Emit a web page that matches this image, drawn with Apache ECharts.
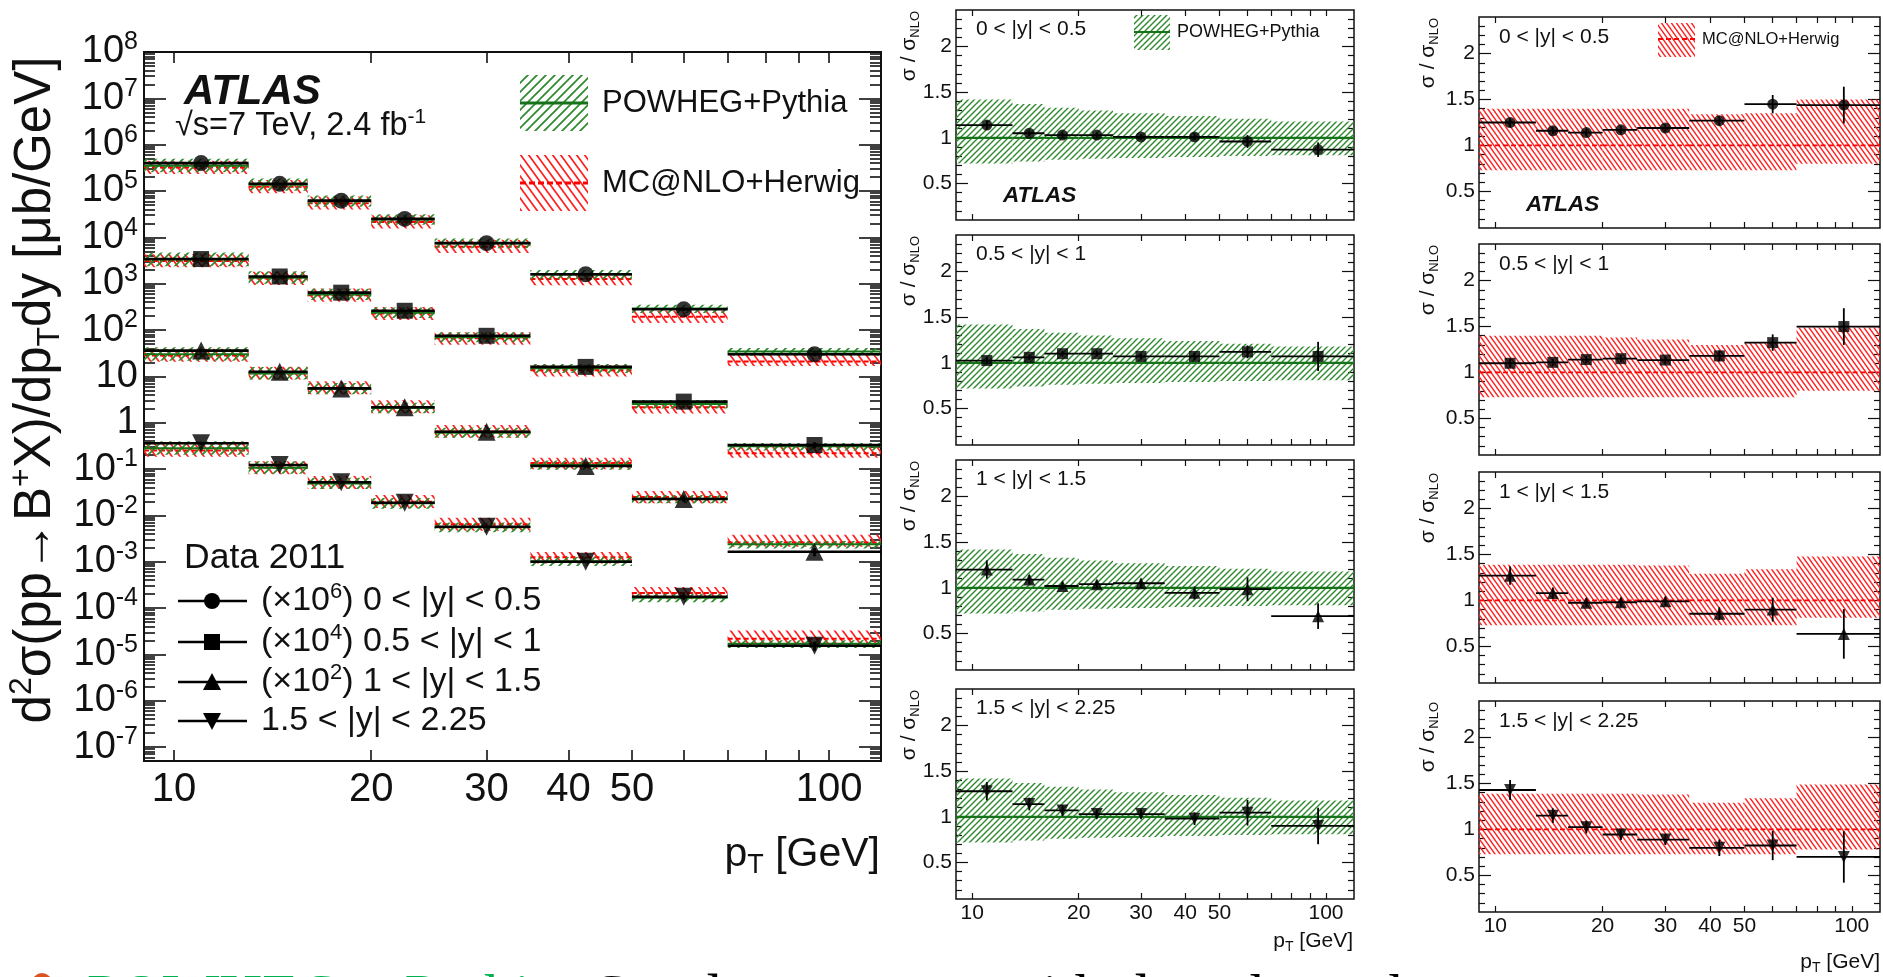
<!DOCTYPE html>
<html><head><meta charset="utf-8">
<script src="https://cdn.jsdelivr.net/npm/echarts@6/dist/echarts.min.js"></script>
<style>html,body{margin:0;padding:0;background:#fff;overflow:hidden}#c{width:1883px;height:977px}</style>
</head><body><div id="c"></div>
<script>
// ---------------- DATA ----------------
const ptEdges   = [9, 13, 16, 20, 25, 35, 50, 70, 120];
const ptCenters = [11, 14.5, 18, 22.5, 30, 42.5, 60, 95];
const xTickValues = [10, 20, 30, 40, 50, 60, 70, 80, 90, 100];
const xTickLabels = [10, 20, 30, 40, 50, 100];
const yDecades = [-7, -6, -5, -4, -3, -2, -1, 0, 1, 2, 3, 4, 5, 6, 7, 8];
const ratioTicks = [0.5, 1, 1.5, 2];
const ratioMinor = [0.2, 0.3, 0.4, 0.6, 0.7, 0.8, 0.9, 1.1, 1.2, 1.3, 1.4, 1.6, 1.7, 1.8, 1.9, 2.1, 2.2, 2.3];
const rapLabels = ['0 < |y| < 0.5', '0.5 < |y| < 1', '1 < |y| < 1.5', '1.5 < |y| < 2.25'];
const scaleExp = ['6', '4', '2', ''];

// main panel: d2sigma/dpTdy as plotted (already multiplied by the legend factors)
const xsecY0 = [4.0e5, 1.43e5, 6.2e4, 2.5e4, 7.5e3, 1.6e3, 280, 30];
const xsecY1 = [3.4e3, 1.43e3, 640, 260, 75, 16, 2.85, 0.33];
const xsecY2 = [36, 12.6, 5.5, 2.15, 0.64, 0.116, 0.0225, 1.64e-3];
const xsecY3 = [0.36, 0.122, 0.052, 0.0187, 5.7e-3, 1.0e-3, 1.75e-4, 1.53e-5];

// data / POWHEG+Pythia
const powRatioY0 = [1.14, 1.05, 1.03, 1.03, 1.01, 1.01, 0.96, 0.87];
const powRatioY1 = [1.025, 1.06, 1.10, 1.10, 1.07, 1.07, 1.12, 1.07];
const powRatioY2 = [1.20, 1.09, 1.02, 1.04, 1.05, 0.945, 0.985, 0.69];
const powRatioY3 = [1.28, 1.14, 1.07, 1.03, 1.03, 0.98, 1.045, 0.90];
const powErrY0 = [0.05, 0.03, 0.03, 0.03, 0.03, 0.04, 0.07, 0.08];
const powErrY1 = [0.04, 0.03, 0.03, 0.03, 0.03, 0.04, 0.07, 0.16];
const powErrY2 = [0.10, 0.05, 0.04, 0.04, 0.05, 0.07, 0.13, 0.14];
const powErrY3 = [0.10, 0.07, 0.06, 0.05, 0.05, 0.07, 0.14, 0.20];
const powBandHi = [1.42, 1.37, 1.33, 1.30, 1.27, 1.24, 1.21, 1.18];
const powBandLo = [0.72, 0.74, 0.76, 0.77, 0.78, 0.79, 0.80, 0.81];

// data / MC@NLO+Herwig
const mcRatioY0 = [1.25, 1.16, 1.14, 1.17, 1.19, 1.27, 1.45, 1.44];
const mcRatioY1 = [1.10, 1.11, 1.14, 1.15, 1.135, 1.18, 1.325, 1.50];
const mcRatioY2 = [1.27, 1.08, 0.975, 0.98, 0.99, 0.855, 0.90, 0.635];
const mcRatioY3 = [1.43, 1.15, 1.025, 0.945, 0.89, 0.80, 0.825, 0.70];
const mcErrY0 = [0.05, 0.04, 0.04, 0.04, 0.04, 0.05, 0.10, 0.20];
const mcErrY1 = [0.05, 0.04, 0.04, 0.04, 0.04, 0.06, 0.09, 0.20];
const mcErrY2 = [0.10, 0.06, 0.05, 0.05, 0.05, 0.07, 0.13, 0.27];
const mcErrY3 = [0.11, 0.08, 0.07, 0.06, 0.06, 0.09, 0.16, 0.28];
const mcBandHiY0 = [1.40, 1.40, 1.40, 1.40, 1.40, 1.34, 1.35, 1.50];
const mcBandLoY0 = [0.73, 0.73, 0.73, 0.73, 0.73, 0.73, 0.73, 0.80];
const mcBandHiY1 = [1.40, 1.40, 1.40, 1.38, 1.36, 1.30, 1.32, 1.49];
const mcBandLoY1 = [0.73, 0.73, 0.73, 0.73, 0.73, 0.73, 0.73, 0.80];
const mcBandHiY2 = [1.39, 1.39, 1.39, 1.39, 1.38, 1.29, 1.34, 1.48];
const mcBandLoY2 = [0.73, 0.73, 0.73, 0.73, 0.73, 0.73, 0.73, 0.81];
const mcBandHiY3 = [1.39, 1.39, 1.39, 1.39, 1.38, 1.29, 1.34, 1.49];
const mcBandLoY3 = [0.73, 0.73, 0.73, 0.73, 0.73, 0.73, 0.73, 0.78];

// ---------------- helpers ----------------
const SANS = "'Liberation Sans', Arial, Helvetica, sans-serif";
const SERIF = "'Liberation Serif', 'Times New Roman', serif";
const L = Math.log10;
const LX0 = L(9), LX1 = L(120);
const LY0 = L(5e-8), LY1 = 8;

const xsec = [xsecY0, xsecY1, xsecY2, xsecY3];
const powRatio = [powRatioY0, powRatioY1, powRatioY2, powRatioY3];
const powErr = [powErrY0, powErrY1, powErrY2, powErrY3];
const mcRatio = [mcRatioY0, mcRatioY1, mcRatioY2, mcRatioY3];
const mcErr = [mcErrY0, mcErrY1, mcErrY2, mcErrY3];
const mcBandHi = [mcBandHiY0, mcBandHiY1, mcBandHiY2, mcBandHiY3];
const mcBandLo = [mcBandLoY0, mcBandLoY1, mcBandLoY2, mcBandLoY3];
const symbols = ['circle', 'rect', 'triangle', 'triangle'];
const symRot = [0, 0, 0, 180];

function hatch(color, w, h, dir, lw) {
  const c = document.createElement('canvas');
  c.width = w; c.height = h;
  const g = c.getContext('2d');
  g.strokeStyle = color; g.lineWidth = lw; g.lineCap = 'square';
  g.beginPath();
  for (const k of [-w, 0, w]) {
    if (dir > 0) { g.moveTo(k, h); g.lineTo(k + w, 0); }
    else { g.moveTo(k, 0); g.lineTo(k + w, h); }
  }
  g.stroke();
  return { image: c, repeat: 'repeat' };
}
const GREEN_H = '#2c8a2c', GREEN_L = '#16731a', RED_H = '#ff2222', RED_L = '#ff0000';
const gHatchMain = hatch(GREEN_H, 9, 9, 1, 1.7);
const rHatchMain = hatch(RED_H, 8, 11, -1, 1.7);
const gHatch = hatch(GREEN_H, 6, 6, 1, 1.4);
const rHatch = hatch(RED_H, 5, 7, -1, 1.4);

const grids = [], xAxes = [], yAxes = [], series = [], graphics = [];

function addPanel(p) {
  const gi = grids.length;
  grids.push({ left: p.left, top: p.top, width: p.width, height: p.height, show: true,
    borderColor: '#111', borderWidth: p.frameW, backgroundColor: 'rgba(0,0,0,0)',
    containLabel: false, outerBoundsMode: 'none' });
  const xi = xAxes.length;
  const xTick = { show: true, inside: true, length: p.xTickLen, customValues: xTickValues.map(L),
    lineStyle: { color: '#111', width: p.tickW } };
  const xBase = { type: 'value', gridIndex: gi, min: LX0, max: LX1,
    axisLine: { show: false, onZero: false }, splitLine: { show: false } };
  xAxes.push(Object.assign({}, xBase, { position: 'bottom', axisTick: xTick,
    axisLabel: p.xLabel ? { show: true, customValues: xTickLabels.map(L), showMinLabel: true, showMaxLabel: true,
      formatter: v => String(Math.round(Math.pow(10, v))), fontSize: p.xFont, fontFamily: SANS,
      color: '#111', margin: p.xMargin } : { show: false } }));
  xAxes.push(Object.assign({}, xBase, { position: 'top', axisTick: xTick, axisLabel: { show: false } }));
  const yi = yAxes.length;
  const yBase = { type: 'value', gridIndex: gi, min: p.ymin, max: p.ymax,
    axisLine: { show: false, onZero: false }, splitLine: { show: false } };
  const majT = { show: true, inside: true, length: p.yMajLen, customValues: p.yMajor, lineStyle: { color: '#111', width: p.tickW } };
  const minT = { show: true, inside: true, length: p.yMinLen, customValues: p.yMinor, lineStyle: { color: '#111', width: p.tickW } };
  yAxes.push(Object.assign({}, yBase, { position: 'left', axisTick: majT,
    axisLabel: { show: true, customValues: p.yMajor, showMinLabel: true, showMaxLabel: true, formatter: p.yFmt, rich: p.yRich,
      fontSize: p.yFont, fontFamily: SANS, color: '#111', margin: p.yMargin } }));
  yAxes.push(Object.assign({}, yBase, { position: 'left', axisTick: minT, axisLabel: { show: false } }));
  yAxes.push(Object.assign({}, yBase, { position: 'right', axisTick: majT, axisLabel: { show: false } }));
  yAxes.push(Object.assign({}, yBase, { position: 'right', axisTick: minT, axisLabel: { show: false } }));
  return { xi, yi };
}

function bandRender(pattern, lineColor, dash, lw) {
  return (params, api) => {
    const a = api.coord([api.value(0), api.value(3)]);
    const b = api.coord([api.value(1), api.value(2)]);
    const m0 = api.coord([api.value(0), api.value(4)]);
    const m1 = api.coord([api.value(1), api.value(4)]);
    return { type: 'group', children: [
      { type: 'rect', shape: { x: a[0], y: a[1], width: b[0] - a[0], height: b[1] - a[1] }, style: { fill: pattern } },
      { type: 'line', shape: { x1: m0[0], y1: m0[1], x2: m1[0], y2: m1[1] },
        style: { stroke: lineColor, lineWidth: lw, lineDash: dash } }
    ] };
  };
}
function errRender(lw) {
  return (params, api) => {
    const a = api.coord([api.value(0), api.value(3)]);
    const b = api.coord([api.value(1), api.value(3)]);
    const c = api.coord([api.value(2), api.value(4)]);
    const d = api.coord([api.value(2), api.value(5)]);
    return { type: 'group', children: [
      { type: 'line', shape: { x1: a[0], y1: a[1], x2: b[0], y2: b[1] }, style: { stroke: '#000', lineWidth: lw } },
      { type: 'line', shape: { x1: c[0], y1: c[1], x2: d[0], y2: d[1] }, style: { stroke: '#000', lineWidth: lw } }
    ] };
  };
}
function customSeries(ax, data, render, z) {
  series.push({ type: 'custom', xAxisIndex: ax.xi, yAxisIndex: ax.yi, data, renderItem: render,
    silent: true, z, encode: { x: 0, y: 2 } });
}

// ---------------- MAIN PANEL ----------------
const yMinorMain = [];
for (let n = -8; n <= 7; n++) for (let k = 2; k <= 9; k++) {
  const v = L(k) + n; if (v > LY0 && v < LY1) yMinorMain.push(v);
}
const mainAx = addPanel({ left: 144, top: 52, width: 737, height: 709, frameW: 2, tickW: 1.6,
  xTickLen: 11, xLabel: true, xFont: 40, xMargin: 9,
  ymin: LY0, ymax: LY1, yMajor: yDecades, yMinor: yMinorMain, yMajLen: 22, yMinLen: 11, yMargin: 6, yFont: 38,
  yFmt: v => { const n = Math.round(v); if (n === 0) return '{b|1}'; if (n === 1) return '{b|10}'; return '{b|10}{s|' + n + '}'; },
  yRich: { b: { fontSize: 38, fontFamily: SANS, color: '#111', lineHeight: 44 },
           s: { fontSize: 25, fontFamily: SANS, color: '#111', lineHeight: 20, verticalAlign: 'top' } } });

for (let r = 0; r < 4; r++) {
  const mcBand = [], powBand = [], err = [], pts = [];
  for (let i = 0; i < 8; i++) {
    const x0 = L(ptEdges[i]), x1 = L(ptEdges[i + 1]), xc = L(ptCenters[i]);
    const d = xsec[r][i];
    const cP = d / powRatio[r][i], cM = d / mcRatio[r][i];
    powBand.push([x0, x1, L(cP * powBandLo[i]), L(cP * powBandHi[i]), L(cP)]);
    mcBand.push([x0, x1, L(cM * mcBandLo[r][i]), L(cM * mcBandHi[r][i]), L(cM)]);
    const rel = powErr[r][i] / powRatio[r][i];
    err.push([x0, x1, xc, L(d), L(d * (1 - rel)), L(d * (1 + rel))]);
    pts.push([xc, L(d)]);
  }
  customSeries(mainAx, mcBand, bandRender(rHatchMain, RED_L, [5, 3], 2), 2);
  customSeries(mainAx, powBand, bandRender(gHatchMain, GREEN_L, null, 2), 3);
  customSeries(mainAx, err, errRender(2.6), 4);
  series.push({ type: 'scatter', xAxisIndex: mainAx.xi, yAxisIndex: mainAx.yi, data: pts, symbol: symbols[r],
    symbolRotate: symRot[r], symbolSize: r >= 2 ? 18 : 16, itemStyle: { color: '#000' }, z: 5, silent: true });
}

// ---------------- RATIO PANELS ----------------
const midTops = [10, 235, 460, 689];
const rightTops = [17, 244, 472, 701];
function ratioPanel(left, top, width, height, bottom) {
  return addPanel({ left, top, width, height, frameW: 1.5, tickW: 1.2,
    xTickLen: 6, xLabel: bottom, xFont: 21, xMargin: 4,
    ymin: 0.1, ymax: 2.4, yMajor: ratioTicks, yMinor: ratioMinor, yMajLen: 12, yMinLen: 6, yMargin: 4, yFont: 21,
    yFmt: v => String(Math.round(v * 10) / 10), yRich: {} });
}
for (let col = 0; col < 2; col++) {
  for (let r = 0; r < 4; r++) {
    const ax = col === 0 ? ratioPanel(956, midTops[r], 398, 210, r === 3)
                         : ratioPanel(1479, rightTops[r], 401, 211, r === 3);
    const band = [], err = [], pts = [];
    for (let i = 0; i < 8; i++) {
      const x0 = L(ptEdges[i]), x1 = L(ptEdges[i + 1]), xc = L(ptCenters[i]);
      if (col === 0) {
        band.push([x0, x1, powBandLo[i], powBandHi[i], 1]);
        err.push([x0, x1, xc, powRatio[r][i], powRatio[r][i] - powErr[r][i], powRatio[r][i] + powErr[r][i]]);
        pts.push([xc, powRatio[r][i]]);
      } else {
        band.push([x0, x1, mcBandLo[r][i], mcBandHi[r][i], 1]);
        err.push([x0, x1, xc, mcRatio[r][i], mcRatio[r][i] - mcErr[r][i], mcRatio[r][i] + mcErr[r][i]]);
        pts.push([xc, mcRatio[r][i]]);
      }
    }
    if (col === 0) customSeries(ax, band, bandRender(gHatch, GREEN_L, null, 2.2), 2);
    else customSeries(ax, band, bandRender(rHatch, RED_L, [5, 3], 1.8), 2);
    customSeries(ax, err, errRender(1.8), 4);
    series.push({ type: 'scatter', xAxisIndex: ax.xi, yAxisIndex: ax.yi, data: pts, symbol: symbols[r],
      symbolRotate: symRot[r], symbolSize: r >= 2 ? 12 : 11, itemStyle: { color: '#000' }, z: 5, silent: true });
  }
}

// ---------------- TEXT / LEGENDS ----------------
function txt(x, y, text, o) {
  o = o || {};
  const st = Object.assign({ text, fontSize: 20, fontFamily: SANS, fill: '#111',
    align: o.align || 'left', textAlign: o.align || 'left', verticalAlign: 'middle', textVerticalAlign: 'middle' }, o.style || {});
  graphics.push({ type: 'text', x, y, rotation: o.rotation || 0, z: 100, silent: true, style: st });
}
function richTok(fs, extra) { return Object.assign({ fontSize: fs, fontFamily: SANS, color: '#111' }, extra || {}); }

// main y title
txt(36, 390, '{a|d}{p|2}{a|σ(pp→B}{p|+}{a|X)/dp}{b|T}{a|dy [μb/GeV]}', { align: 'center', rotation: Math.PI / 2,
  style: { rich: { a: richTok(51, { lineHeight: 60 }), p: richTok(32, { lineHeight: 24, verticalAlign: 'top' }),
                   b: richTok(32, { lineHeight: 24, verticalAlign: 'bottom' }) } } });
// main x title
txt(880, 855, '{a|p}{b|T}{a| [GeV]}', { align: 'right',
  style: { rich: { a: richTok(41, { lineHeight: 48 }), b: richTok(27, { lineHeight: 20, verticalAlign: 'bottom' }) } } });
// ATLAS + energy
txt(184, 92, 'ATLAS', { style: { fontSize: 42, fontWeight: 'bold', fontStyle: 'italic' } });
txt(175, 126, '{a|√s=7 TeV, 2.4 fb}{s|-1}', { style: { rich: { a: richTok(32.5, { lineHeight: 38 }),
  s: richTok(21, { lineHeight: 16, verticalAlign: 'top' }) } } });
// top-right legend of main panel
graphics.push({ type: 'rect', shape: { x: 520, y: 75, width: 68, height: 56 }, style: { fill: gHatchMain }, z: 90, silent: true });
graphics.push({ type: 'line', shape: { x1: 520, y1: 103, x2: 588, y2: 103 }, style: { stroke: GREEN_L, lineWidth: 3 }, z: 91, silent: true });
txt(602, 103, 'POWHEG+Pythia', { style: { fontSize: 31 } });
graphics.push({ type: 'rect', shape: { x: 520, y: 155, width: 68, height: 56 }, style: { fill: rHatchMain }, z: 90, silent: true });
graphics.push({ type: 'line', shape: { x1: 520, y1: 183, x2: 588, y2: 183 }, style: { stroke: RED_L, lineWidth: 3, lineDash: [6, 3] }, z: 91, silent: true });
txt(602, 183, 'MC@NLO+Herwig', { style: { fontSize: 31 } });
// data legend
txt(184, 558, 'Data 2011', { style: { fontSize: 35.5 } });
const legY = [601, 642, 682, 721];
for (let r = 0; r < 4; r++) {
  const y = legY[r];
  graphics.push({ type: 'line', shape: { x1: 178, y1: y, x2: 247, y2: y }, style: { stroke: '#000', lineWidth: 2.6 }, z: 90, silent: true });
  let m;
  if (r === 0) m = { type: 'circle', shape: { cx: 212, cy: y, r: 8 } };
  else if (r === 1) m = { type: 'rect', shape: { x: 204, y: y - 8, width: 16, height: 16 } };
  else if (r === 2) m = { type: 'polygon', shape: { points: [[212, y - 9], [221, y + 8], [203, y + 8]] } };
  else m = { type: 'polygon', shape: { points: [[212, y + 9], [221, y - 8], [203, y - 8]] } };
  m.style = { fill: '#000' }; m.z = 91; m.silent = true;
  graphics.push(m);
  const label = scaleExp[r] ? '{a|(×10}{s|' + scaleExp[r] + '}{a|) ' + rapLabels[r] + '}' : '{a|' + rapLabels[r] + '}';
  txt(261, y, label, { style: { rich: { a: richTok(34, { lineHeight: 40 }), s: richTok(22, { lineHeight: 18, verticalAlign: 'top' }) } } });
}

// ratio panel texts
const sigRich = { a: richTok(21, { lineHeight: 26 }), b: richTok(13, { lineHeight: 10, verticalAlign: 'bottom' }) };
for (let r = 0; r < 4; r++) {
  txt(976, midTops[r] + 19, rapLabels[r], { style: { fontSize: 21 } });
  txt(1499, rightTops[r] + 20, rapLabels[r], { style: { fontSize: 21 } });
  txt(909, midTops[r] + 1, '{a|σ / σ}{b|NLO}', { align: 'right', rotation: Math.PI / 2, style: { rich: sigRich } });
  txt(1428, rightTops[r] + 1, '{a|σ / σ}{b|NLO}', { align: 'right', rotation: Math.PI / 2, style: { rich: sigRich } });
}
// ratio legends
graphics.push({ type: 'rect', shape: { x: 1134, y: 15, width: 36, height: 35 }, style: { fill: gHatch }, z: 90, silent: true });
graphics.push({ type: 'line', shape: { x1: 1134, y1: 32, x2: 1170, y2: 32 }, style: { stroke: GREEN_L, lineWidth: 2.2 }, z: 91, silent: true });
txt(1177, 32, 'POWHEG+Pythia', { style: { fontSize: 18 } });
graphics.push({ type: 'rect', shape: { x: 1658, y: 23, width: 37, height: 34 }, style: { fill: rHatch }, z: 90, silent: true });
graphics.push({ type: 'line', shape: { x1: 1658, y1: 39, x2: 1695, y2: 39 }, style: { stroke: RED_L, lineWidth: 1.8, lineDash: [5, 3] }, z: 91, silent: true });
txt(1702, 39, 'MC@NLO+Herwig', { style: { fontSize: 16.5 } });
txt(1003, 196, 'ATLAS', { style: { fontSize: 22.5, fontWeight: 'bold', fontStyle: 'italic' } });
txt(1526, 205, 'ATLAS', { style: { fontSize: 22.5, fontWeight: 'bold', fontStyle: 'italic' } });
const ptRich = { a: richTok(21, { lineHeight: 26 }), b: richTok(14, { lineHeight: 10, verticalAlign: 'bottom' }) };
txt(1353, 941, '{a|p}{b|T}{a| [GeV]}', { align: 'right', style: { rich: ptRich } });
txt(1880, 962, '{a|p}{b|T}{a| [GeV]}', { align: 'right', style: { rich: ptRich } });

// slide text (cut off at the bottom of the picture)
graphics.push({ type: 'circle', shape: { cx: 42, cy: 983, r: 10 }, style: { fill: '#d9541e' }, z: 90, silent: true });
txt(87, 999, 'POWHEG + Pythia:', { style: { fontSize: 59.5, fontFamily: SERIF, fill: '#00b050' } });
txt(589, 999, 'Good agreement with data throughout', { style: { fontSize: 59.5, fontFamily: SERIF, fill: '#000' } });

const chart = echarts.init(document.getElementById('c'), null, { renderer: 'canvas', devicePixelRatio: 1 });
chart.setOption({ animation: false, backgroundColor: '#fff', grid: grids, xAxis: xAxes, yAxis: yAxes,
  series, graphic: { elements: graphics } });
</script></body></html>
